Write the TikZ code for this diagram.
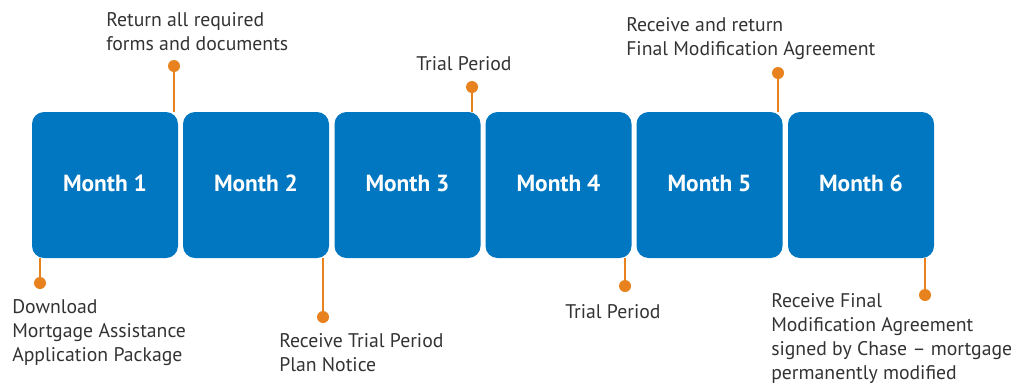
\documentclass[tikz,border=0pt]{standalone}
\usepackage{fontspec}
\setmainfont{PT Sans}
\begin{document}
\begin{tikzpicture}[x=0.75pt,y=-0.75pt,
  monthbox/.style={fill=chaseblue,draw=none,rounded corners=9pt,minimum width=109.5pt,minimum height=109.5pt,inner sep=0pt},
  monthlabel/.style={inner sep=0pt,text=white,font=\fontsize{17.5}{18}\selectfont\bfseries},
  marker/.style={circle,fill=accent,draw=none,minimum size=9pt,inner sep=0pt},
  stem/.style={draw=accent,line width=1.5pt},
  note/.style={anchor=north west,inner sep=0pt,align=left,text=notegray,font=\fontsize{14.8}{18}\selectfont}]
\definecolor{chaseblue}{HTML}{0077C0}
\definecolor{accent}{HTML}{E8821E}
\definecolor{notegray}{HTML}{333333}
\useasboundingbox (0,0) rectangle (1013,383);

% month blocks
\node[monthbox] (m1) at (105,185)   {};
\node[monthbox] (m2) at (256,185)   {};
\node[monthbox] (m3) at (407.5,185) {};
\node[monthbox] (m4) at (558.5,185) {};
\node[monthbox] (m5) at (709.5,185) {};
\node[monthbox] (m6) at (861,185)   {};
\foreach \i in {1,...,6}
  \node[monthlabel] (l\i) at ([yshift=1.5pt]m\i.center) {Month \i};

% stems from markers to the blocks
\coordinate (p1) at (174,66);
\coordinate (p2) at (40,283);
\coordinate (p3) at (323,317);
\coordinate (p4) at (472,87);
\coordinate (p5) at (625,286);
\coordinate (p6) at (778,73);
\coordinate (p7) at (925,295);
\draw[stem] (p1) -- (p1 |- m1.north);
\draw[stem] (p2) -- (p2 |- m1.south);
\draw[stem] (p3) -- (p3 |- m2.south);
\draw[stem] (p4) -- (p4 |- m3.north);
\draw[stem] (p5) -- (p5 |- m4.south);
\draw[stem] (p6) -- (p6 |- m5.north);
\draw[stem] (p7) -- (p7 |- m6.south);

% milestone markers
\foreach \i in {1,...,7}
  \node[marker] (d\i) at (p\i) {};

% milestone notes
\node[note] (t1) at (106,12)  {Return all required\\forms and documents};
\node[note] (t2) at (12,299)  {Download\\Mortgage Assistance\\Application Package};
\node[note] (t3) at (279,333) {Receive Trial Period\\Plan Notice};
\node[note] (t4) at (416,56)  {Trial Period};
\node[note] (t5) at (565,304) {Trial Period};
\node[note] (t6) at (626,17)  {Receive and return\\Final Modification Agreement};
\node[note] (t7) at (771,293) {Receive Final\\Modification Agreement\\signed by Chase -- mortgage\\permanently modified};
\end{tikzpicture}
\end{document}
